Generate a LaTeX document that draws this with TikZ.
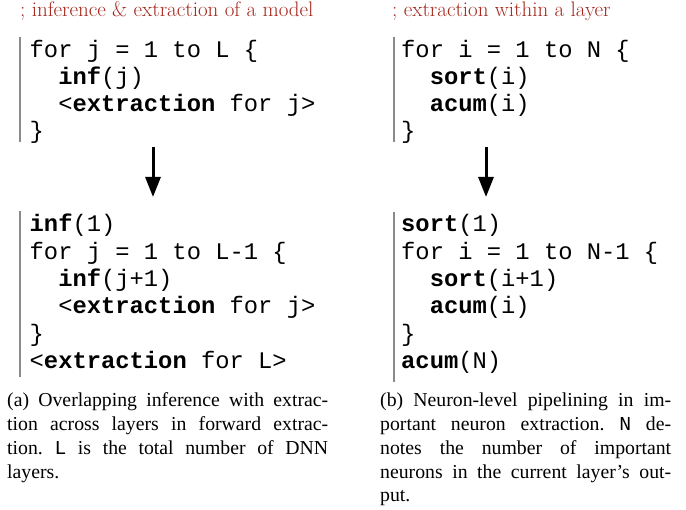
\documentclass[tikz,border=0pt]{standalone}
\usepackage{fontspec}
\setmonofont{Liberation Mono}
\newfontfamily\capfont[Ligatures=TeX]{Liberation Serif}
\usepackage{xcolor}
\definecolor{hdRed}{HTML}{A3261C}
\definecolor{barGray}{HTML}{8A8A8A}
\usetikzlibrary{arrows.meta}
\tikzset{code/.style={anchor=base west,inner sep=0pt,align=left,font=\fontsize{23.8}{27.3}\selectfont\ttfamily}}
\tikzset{header/.style={anchor=base west,inner sep=0pt,text=hdRed,font=\fontsize{21}{25}\selectfont}}
\tikzset{caption/.style={anchor=base west,inner sep=0pt,align=justify,font=\fontsize{19.75}{23.7}\selectfont\capfont\frenchspacing}}
\tikzset{codebar/.style={draw=barGray,line width=2.5pt}}
\tikzset{flow/.style={line width=3pt,-{Triangle[width=15pt,length=20pt]}}}
\newcommand{\kw}[1]{\textbf{#1}}
\newcommand{\codeind}{\hspace*{1.2em}}

\begin{document}
\begin{tikzpicture}[x=1pt,y=1pt]
\useasboundingbox (0,0) rectangle (686,-510);
\node[header](hdA) at (20,-17){; inference \& extraction of a model};
\node[header](hdB) at (392,-17){; extraction within a layer};
% code blocks sit on the baseline of their last line
\node[code](loopA) at (29.5,-139){for j = 1 to L \{\\
  \codeind\kw{inf}(j)\\
  \codeind<\kw{extraction} for j>\\
  \}};
\node[code](pipeA) at (29.5,-368.5){\kw{inf}(1)\\
  for j = 1 to L-1 \{\\
  \codeind\kw{inf}(j+1)\\
  \codeind<\kw{extraction} for j>\\
  \}\\
  <\kw{extraction} for L>};
\node[code](loopB) at (401,-139){for i = 1 to N \{\\
  \codeind\kw{sort}(i)\\
  \codeind\kw{acum}(i)\\
  \}};
\node[code](pipeB) at (401,-368.5){\kw{sort}(1)\\
  for i = 1 to N-1 \{\\
  \codeind\kw{sort}(i+1)\\
  \codeind\kw{acum}(i)\\
  \}\\
  \kw{acum}(N)};
\draw[codebar] ([xshift=-9.5pt,yshift=3pt]loopA.north west) -- ([xshift=-9.5pt,yshift=2pt]loopA.south west);
\draw[codebar] ([xshift=-9.5pt,yshift=3pt]pipeA.north west) -- ([xshift=-9.5pt,yshift=-8pt]pipeA.south west);
\draw[codebar] ([xshift=-7pt,yshift=3pt]loopB.north west) -- ([xshift=-7pt,yshift=2pt]loopB.south west);
\draw[codebar] ([xshift=-7pt,yshift=3pt]pipeB.north west) -- ([xshift=-7pt,yshift=-8pt]pipeB.south west);
\coordinate (fromA) at (153,-147);
\coordinate (toA) at (153,-197);
\coordinate (fromB) at (486,-147);
\coordinate (toB) at (486,-197);
\draw[flow] (fromA) -- (toA);
\draw[flow] (fromB) -- (toB);
\node[caption,text width=321pt](capA) at (7,-407){(a) Overlapping inference with extrac-\linebreak
  tion across layers in forward extrac-\linebreak
  tion. \texttt{L} is the total number of DNN\linebreak
  layers.};
\node[caption,text width=291pt](capB) at (380,-407){(b) Neuron-level pipelining in im-\linebreak
  portant neuron extraction. \texttt{N} de-\linebreak
  notes the number of important\linebreak
  neurons in the current layer's out-\linebreak
  put.};
\end{tikzpicture}
\end{document}
